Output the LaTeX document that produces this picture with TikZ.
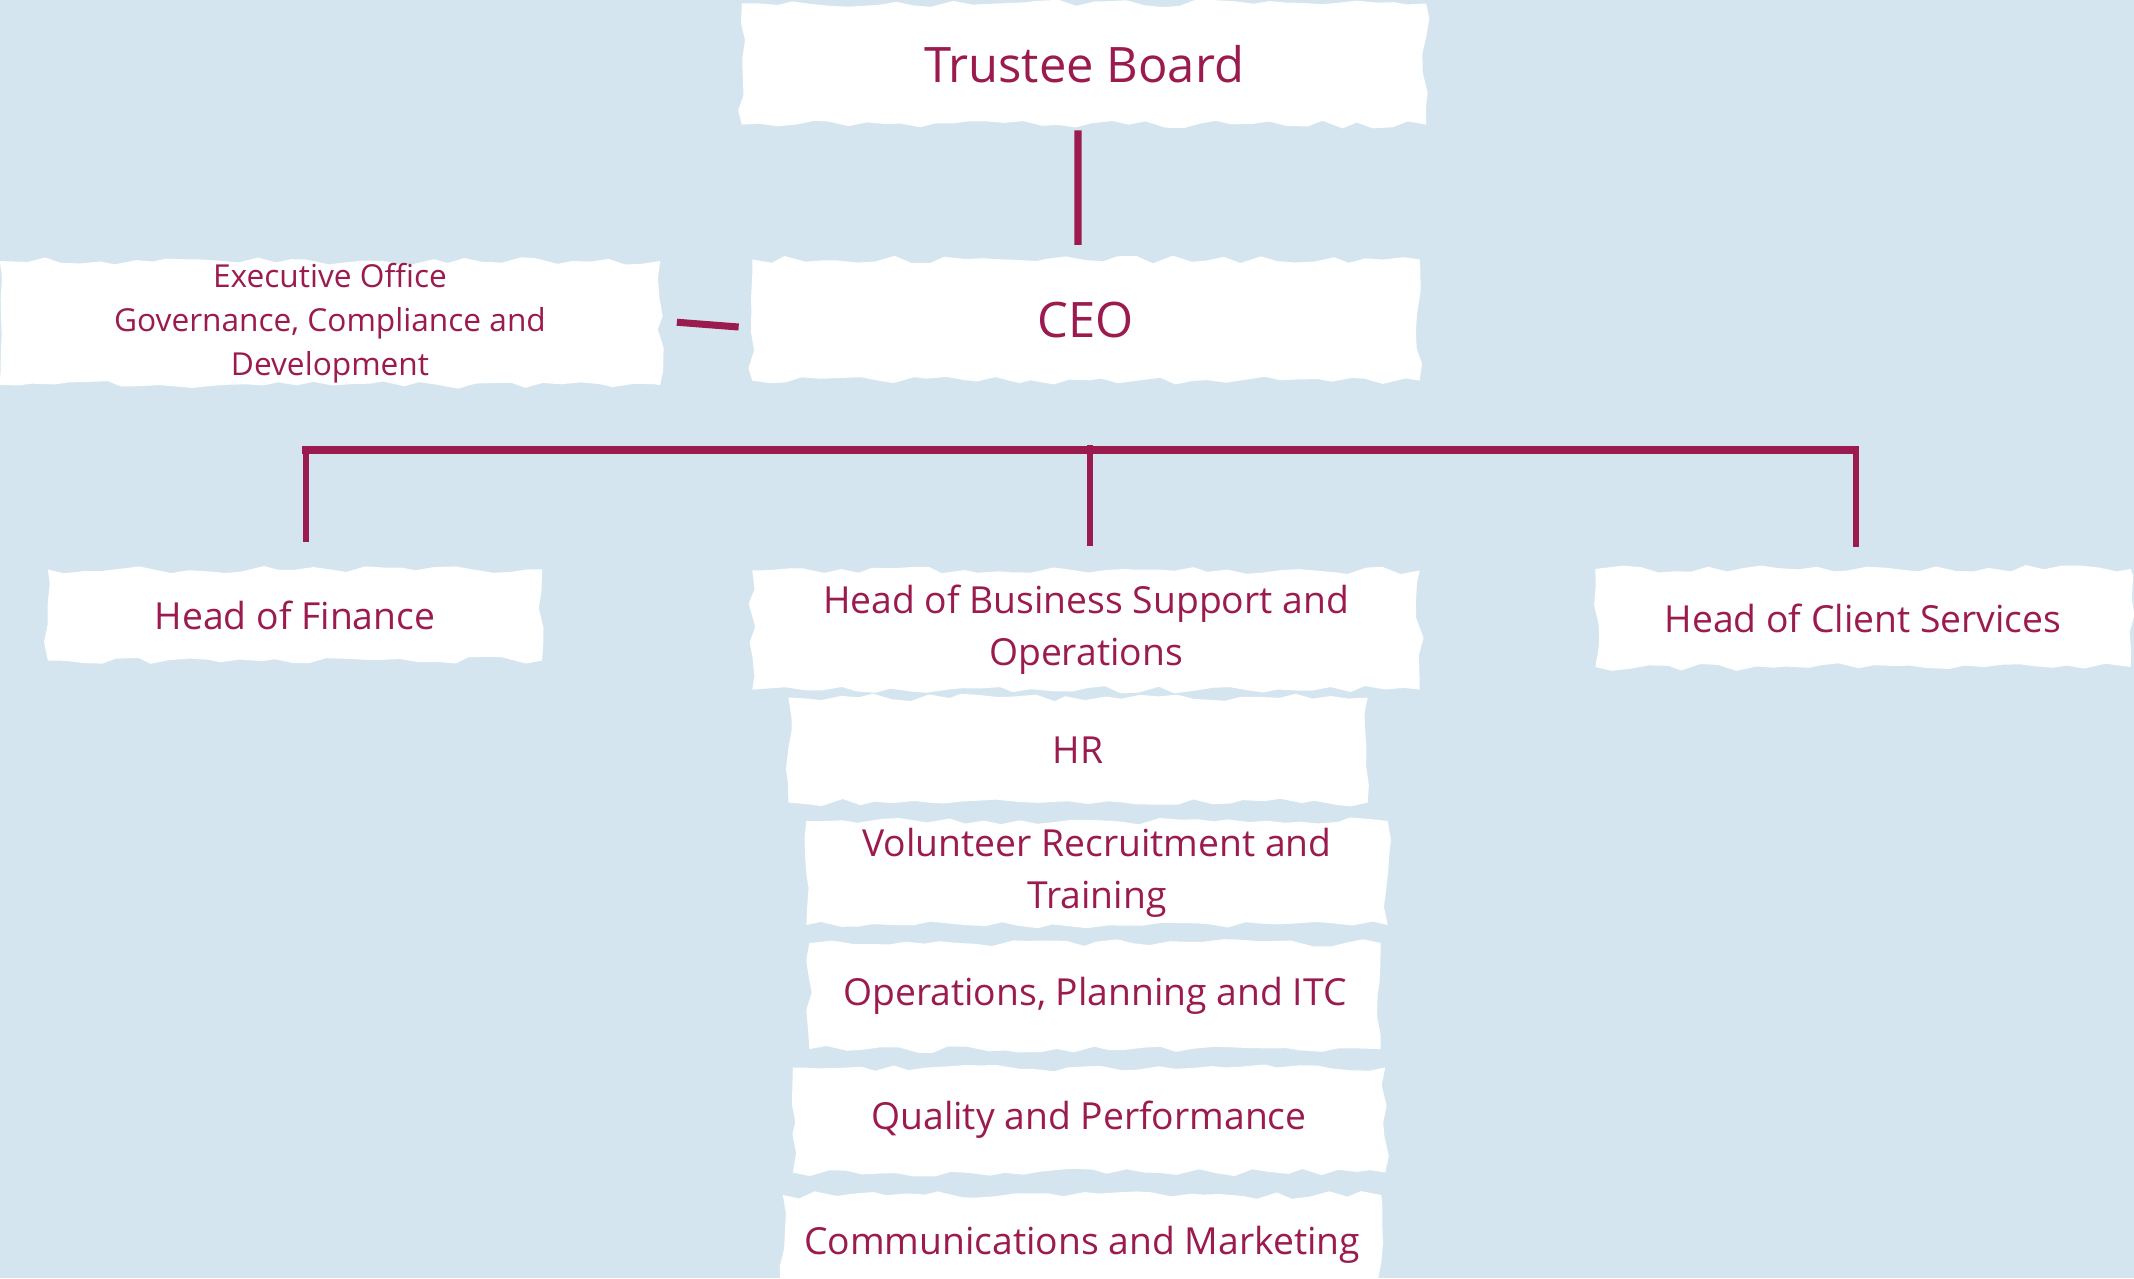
\documentclass[tikz,border=0pt]{standalone}
\usepackage{fontspec}
\setmainfont{Open Sans}
\usetikzlibrary{decorations.pathmorphing}
\definecolor{maroon}{HTML}{9B1B4F}
\definecolor{skyback}{HTML}{D5E5EF}

\begin{document}
\begin{tikzpicture}[x=0.01cm, y=-0.01cm,
		brush/.style={fill=white, inner sep=0pt, text=maroon, align=center,
			decorate, decoration={random steps, segment length=5pt, amplitude=1.1pt}},
		big/.style={font=\fontsize{13.9}{17}\selectfont},
		mid/.style={font=\fontsize{10.6}{14.8}\selectfont},
		small/.style={font=\fontsize{9.0}{12.5}\selectfont},
		link/.style={draw=maroon, line width=2pt},
		drop/.style={draw=maroon, line width=1.5pt}]
	\pgfmathsetseed{7}
	\fill[skyback] (0, 0) rectangle (2134, 1278);
	\useasboundingbox (0, 0) rectangle (2134, 1278);

	\draw (1084, 64) 	node[brush, big, minimum width=6.84cm, minimum height=1.21cm] 	(board) 	{Trustee Board};
	\draw (1086, 320) 	node[brush, big, minimum width=6.67cm, minimum height=1.21cm] 	(ceo) 		{CEO};
	\draw (330, 323) 	node[brush, small, minimum width=6.60cm, minimum height=1.24cm] 	(exec) 		{Executive Office\\Governance, Compliance and\\Development};
	\draw (295, 615) 	node[brush, mid, minimum width=4.94cm, minimum height=0.91cm] 	(finance) 	{Head of Finance};
	\draw (1086, 630) 	node[brush, mid, minimum width=6.67cm, minimum height=1.19cm] 	(business) 	{Head of Business Support and\\Operations};
	\draw (1863, 618) 	node[brush, mid, minimum width=5.35cm, minimum height=0.98cm] 	(client) 	{Head of Client Services};
	\draw (1078, 750) 	node[brush, mid, minimum width=5.79cm, minimum height=1.05cm] 	(hr) 		{HR};
	\draw (1097, 873) 	node[brush, mid, minimum width=5.81cm, minimum height=1.04cm] 	(volunteer) {Volunteer Recruitment and\\Training};
	\draw (1095, 996) 	node[brush, mid, minimum width=5.71cm, minimum height=1.06cm] 	(opsplan) 	{Operations, Planning and ITC};
	\draw (1089, 1120) 	node[brush, mid, minimum width=5.92cm, minimum height=1.05cm] 	(quality) 	{Quality and Performance};
	\draw (1082, 1245) 	node[brush, mid, minimum width=5.98cm, minimum height=1.00cm] 	(comms) 	{Communications and Marketing};

	\coordinate (barL) at (306, 450);
	\coordinate (barM) at (1090, 445);
	\coordinate (barR) at (1856, 450);

	\draw[link, shorten <=0.05cm, shorten >=0.14cm] ([xshift=-0.06cm]board.south) -- ([xshift=-0.08cm]ceo.north);
	\draw[link, shorten <=0.16cm, shorten >=0.13cm] ([yshift=0.02cm]exec.east) -- ([yshift=-0.08cm]ceo.west);
	\draw[link] ([xshift=-0.04cm]barL) -- ([xshift=0.03cm]barR);
	\draw[drop, shorten >=0.27cm] (barL) -- (barL |- finance.north);
	\draw[drop, shorten >=0.24cm] (barM) -- (barM |- business.north);
	\draw[drop, shorten >=0.21cm] (barR) -- (barR |- client.north);
\end{tikzpicture}
\end{document}
